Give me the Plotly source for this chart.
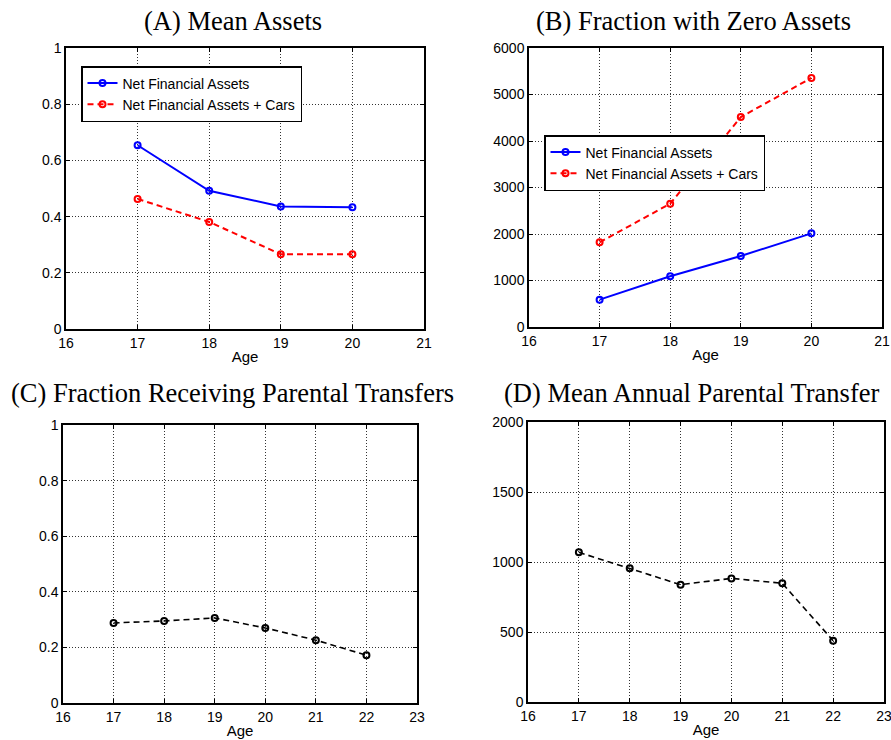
import plotly.graph_objects as go

# ---- data ----
age_ab = [17, 18, 19, 20]
mean_nfa = [0.654, 0.492, 0.436, 0.433]
mean_nfa_cars = [0.463, 0.381, 0.266, 0.266]
zero_nfa = [588, 1090, 1527, 2014]
zero_nfa_cars = [1821, 2652, 4516, 5355]

age_cd = [17, 18, 19, 20, 21, 22]
frac_transfer = [0.288, 0.295, 0.306, 0.270, 0.226, 0.172]
mean_transfer = [1069, 955, 838, 883, 848, 438]

titles = ["(A) Mean Assets", "(B) Fraction with Zero Assets",
          "(C) Fraction Receiving Parental Transfers", "(D) Mean Annual Parental Transfer"]
series_names = ["Net Financial Assets", "Net Financial Assets + Cars"]

W, H = 891, 740
SERIF = "Liberation Serif"
SANS = "Liberation Sans, Arial, sans-serif"

def px_x(p):
    return p / W

def px_y(p):
    return 1 - p / H

fig = go.Figure()

mk = lambda c: dict(symbol="circle-open", size=6, color=c, line=dict(width=2, color=c))
DASH = "6px,4px"

fig.add_trace(go.Scatter(x=age_ab, y=mean_nfa, mode="lines+markers", name=series_names[0],
                         line=dict(color="#0000ff", width=2), marker=mk("#0000ff"),
                         xaxis="x", yaxis="y", legend="legend"))
fig.add_trace(go.Scatter(x=age_ab, y=mean_nfa_cars, mode="lines+markers", name=series_names[1],
                         line=dict(color="#ff0000", width=2, dash=DASH), marker=mk("#ff0000"),
                         xaxis="x", yaxis="y", legend="legend"))
fig.add_trace(go.Scatter(x=age_ab, y=zero_nfa, mode="lines+markers", name=series_names[0],
                         line=dict(color="#0000ff", width=2), marker=mk("#0000ff"),
                         xaxis="x2", yaxis="y2", legend="legend2"))
fig.add_trace(go.Scatter(x=age_ab, y=zero_nfa_cars, mode="lines+markers", name=series_names[1],
                         line=dict(color="#ff0000", width=2, dash=DASH), marker=mk("#ff0000"),
                         xaxis="x2", yaxis="y2", legend="legend2"))
fig.add_trace(go.Scatter(x=age_cd, y=frac_transfer, mode="lines+markers", showlegend=False,
                         line=dict(color="black", width=1.6, dash=DASH), marker=mk("black"),
                         xaxis="x3", yaxis="y3"))
fig.add_trace(go.Scatter(x=age_cd, y=mean_transfer, mode="lines+markers", showlegend=False,
                         line=dict(color="black", width=1.6, dash=DASH), marker=mk("black"),
                         xaxis="x4", yaxis="y4"))

# domains in page pixels: (x0, x1, ytop, ybottom)
boxes = [(66, 424, 48, 329), (529, 882, 48, 327), (63, 417, 425, 703), (528, 884, 422, 702)]
xranges = [[16, 21], [16, 21], [16, 23], [16, 23]]
yranges = [[0, 1], [0, 6000], [0, 1], [0, 2000]]
ydticks = [0.2, 1000, 0.2, 500]

common = dict(showline=True, linecolor="black", linewidth=1.5, mirror="ticks",
              ticks="inside", ticklen=4, tickcolor="black",
              showgrid=True, gridcolor="#333333", griddash="1px,2px", gridwidth=1,
              zeroline=False, automargin=False, ticklabeloverflow="allow",
              tickfont=dict(family=SANS, size=14, color="black"))

lay = {}
for i, (b, xr, yr, dy) in enumerate(zip(boxes, xranges, yranges, ydticks)):
    s = "" if i == 0 else str(i + 1)
    x0, x1, yt, yb = b
    lay["xaxis" + s] = dict(common, domain=[px_x(x0), px_x(x1)], range=xr, dtick=1, tick0=16,
                            anchor="y" + s,
                            title=dict(text="Age", font=dict(family=SANS, size=15, color="black"),
                                       standoff=2))
    lay["yaxis" + s] = dict(common, domain=[px_y(yb), px_y(yt)], range=yr, dtick=dy, tick0=0,
                            anchor="x" + s)

annotations = []
title_pos = [(233, 5), (693, 5), (233, 377), (692, 377)]
for t, (cx, cy) in zip(titles, title_pos):
    annotations.append(dict(text=t, x=px_x(cx), y=px_y(cy), xref="paper", yref="paper",
                            xanchor="center", yanchor="top", showarrow=False, borderpad=0,
                            font=dict(family=SERIF, size=26.5, color="black")))

legend_common = dict(bgcolor="white", bordercolor="black", borderwidth=1.5,
                     font=dict(family=SANS, size=14, color="black"),
                     xanchor="left", yanchor="top", xref="paper", yref="paper",
                     itemwidth=30, tracegroupgap=0)

fig.update_layout(
    width=W, height=H, margin=dict(l=0, r=0, t=0, b=0, autoexpand=False),
    paper_bgcolor="white", plot_bgcolor="white",
    annotations=annotations,
    legend=dict(legend_common, x=px_x(81), y=px_y(66)),
    legend2=dict(legend_common, x=px_x(544), y=px_y(135)),
    **lay,
)

fig.write_html("out.html", config={"displayModeBar": False},
               post_script="document.body.style.margin='0px';")
